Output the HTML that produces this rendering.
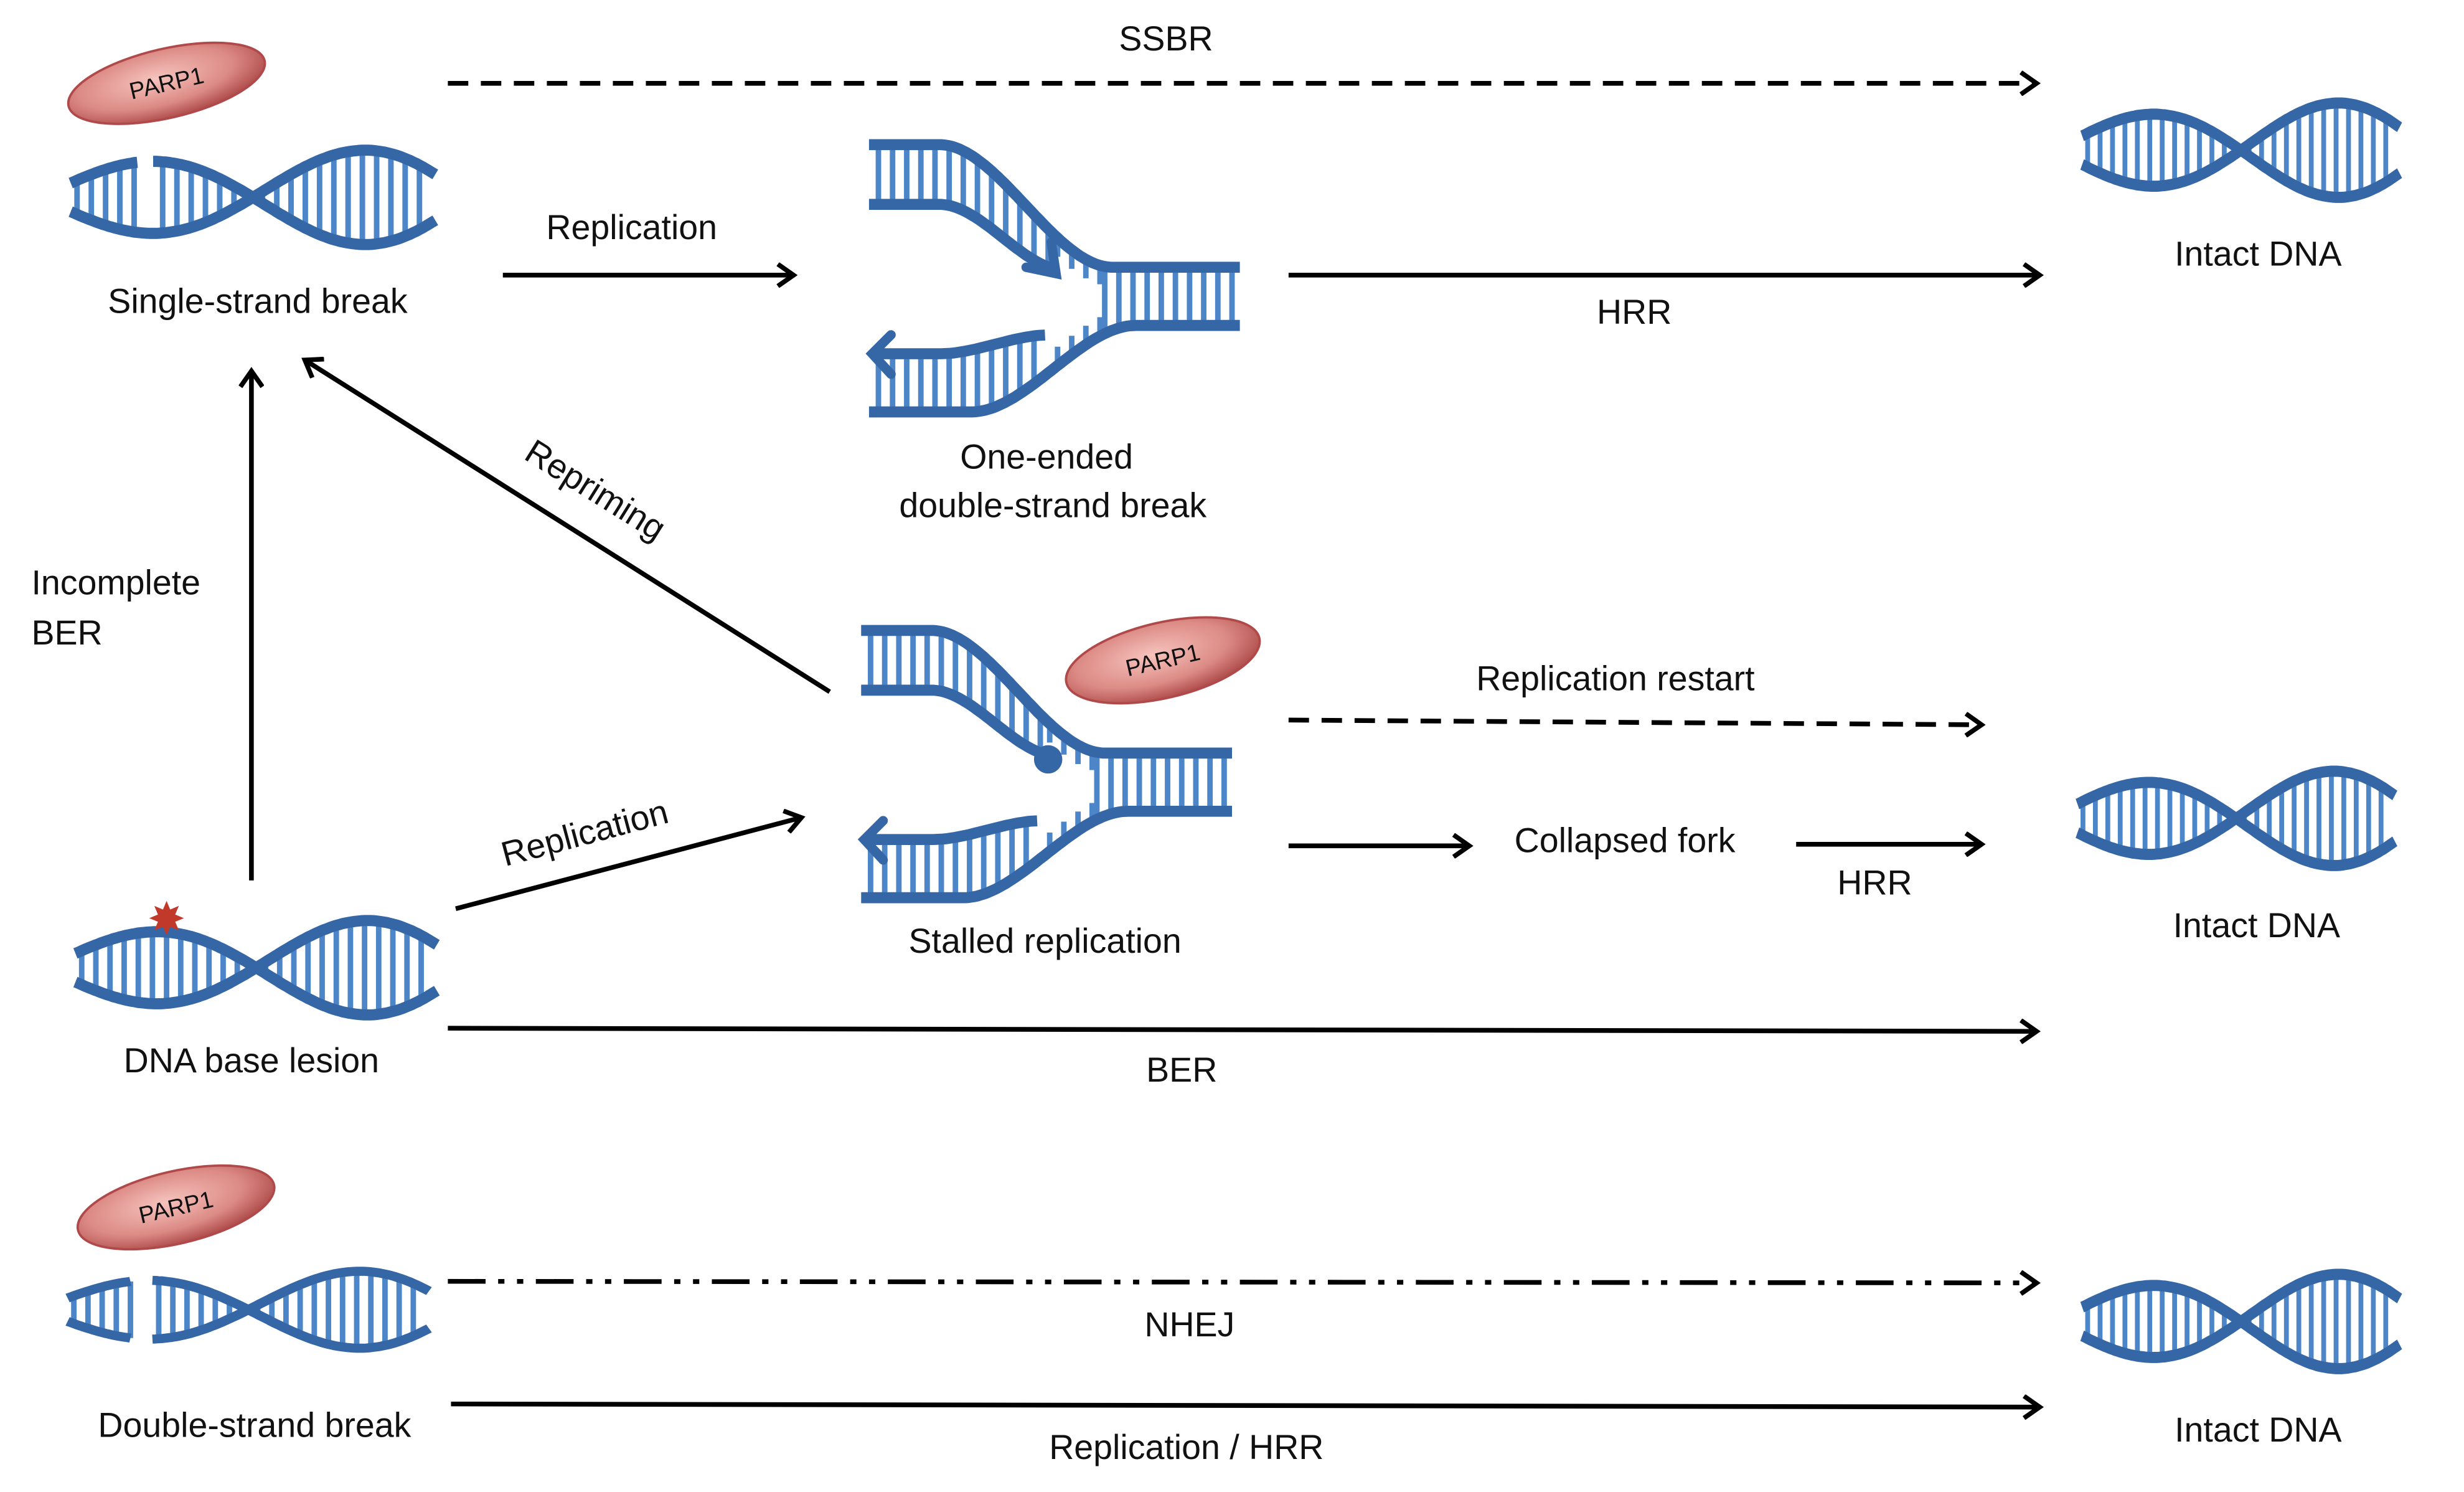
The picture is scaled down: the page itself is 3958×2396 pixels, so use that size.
<!DOCTYPE html>
<html><head><meta charset="utf-8">
<style>
html,body{margin:0;padding:0;background:#fff;}
svg{display:block;}
text{font-family:"Liberation Sans",sans-serif;fill:#111;}
</style></head>
<body>
<svg id="s" xmlns="http://www.w3.org/2000/svg" width="3958" height="2396" viewBox="0 0 1568 949" preserveAspectRatio="none">
<defs>
<radialGradient id="pg" cx="0.45" cy="0.4" r="0.65">
<stop offset="0" stop-color="#f6c3bd"/>
<stop offset="0.6" stop-color="#dc8a85"/>
<stop offset="1" stop-color="#a53f3f"/>
</radialGradient>
<marker id="ah" markerWidth="16" markerHeight="16" refX="12" refY="8" orient="auto" markerUnits="userSpaceOnUse">
<path d="M2,1 L12,8 L2,15" fill="none" stroke="#000" stroke-width="3"/>
</marker>
</defs>
<g id="dna"></g>
<g stroke="#000" stroke-width="3" fill="none" marker-end="url(#ah)">
<line x1="285" y1="53" x2="1296" y2="53" stroke-dasharray="13,8"/>
<line x1="320" y1="175" x2="505" y2="175"/>
<line x1="820" y1="175" x2="1298" y2="175"/>
<line x1="160" y1="560" x2="160" y2="236"/>
<line x1="528" y1="440" x2="194" y2="229"/>
<line x1="290" y1="578" x2="510" y2="520"/>
<line x1="820" y1="458" x2="1261" y2="461" stroke-dasharray="13,8"/>
<line x1="820" y1="538" x2="935" y2="538"/>
<line x1="1143" y1="537" x2="1261" y2="537"/>
<line x1="285" y1="654" x2="1296" y2="656"/>
<line x1="285" y1="815" x2="1296" y2="816" stroke-dasharray="24,8,4,8,4,8"/>
<line x1="287" y1="893" x2="1298" y2="895"/>
</g>
<g font-size="22">
<text x="742" y="32" text-anchor="middle">SSBR</text>
<text x="1437" y="169" text-anchor="middle">Intact DNA</text>
<text x="402" y="152" text-anchor="middle">Replication</text>
<text x="164" y="199" text-anchor="middle">Single-strand break</text>
<text x="1040" y="206" text-anchor="middle">HRR</text>
<text x="666" y="298" text-anchor="middle">One-ended</text>
<text x="670" y="329" text-anchor="middle">double-strand break</text>
<text x="20" y="378">Incomplete</text>
<text x="20" y="410">BER</text>
<text x="0" y="0" text-anchor="middle" transform="translate(375,318) rotate(32)">Repriming</text>
<text x="0" y="0" text-anchor="middle" transform="translate(374,537) rotate(-15)">Replication</text>
<text x="1028" y="439" text-anchor="middle">Replication restart</text>
<text x="1034" y="542" text-anchor="middle">Collapsed fork</text>
<text x="1193" y="569" text-anchor="middle">HRR</text>
<text x="1436" y="596" text-anchor="middle">Intact DNA</text>
<text x="665" y="606" text-anchor="middle">Stalled replication</text>
<text x="160" y="682" text-anchor="middle">DNA base lesion</text>
<text x="752" y="688" text-anchor="middle">BER</text>
<text x="757" y="850" text-anchor="middle">NHEJ</text>
<text x="162" y="914" text-anchor="middle">Double-strand break</text>
<text x="755" y="928" text-anchor="middle">Replication / HRR</text>
<text x="1437" y="917" text-anchor="middle">Intact DNA</text>
</g>
<g id="parps"></g>
</svg>
<script>
var NS="http://www.w3.org/2000/svg";
var dna=document.getElementById('dna');
var SC="#3566a6", RC="#4d86c8";
function el(t,a,p){var e=document.createElementNS(NS,t);for(var k in a)e.setAttribute(k,a[k]);(p||dna).appendChild(e);return e;}
function sm(t){t=Math.max(0,Math.min(1,t));return t*t*(3-2*t);}
function helix(x0,y0,w,h,gapA,gapB){
  var g=el('g',{transform:'translate('+x0+','+y0+') scale('+(w/230)+','+(h/75)+')'});
  function amp(x){return 20+12*x/230;}
  function yA(x){return 40-amp(x)*Math.sin(Math.PI*(x+20)/135);}
  function yB(x){return 40+amp(x)*Math.sin(Math.PI*(x+20)/135);}
  function inGap(x,gp){return gp&&x>gp[0]&&x<gp[1];}
  for(var x=4;x<228;x+=9){
    if(inGap(x,gapA)||inGap(x,gapB))continue;
    var a=yA(x),b=yB(x);if(Math.abs(a-b)<5)continue;
    el('line',{x1:x,y1:a,x2:x,y2:b,stroke:RC,'stroke-width':3.5},g);
  }
  [[yA,gapA],[yB,gapB]].forEach(function(p){
    var f=p[0],gp=p[1],d='',pen=false;
    for(var x=0;x<=230;x+=2){
      if(inGap(x,gp)){pen=false;continue;}
      d+=(pen?'L':'M')+x+','+f(x).toFixed(1);pen=true;
    }
    el('path',{d:d,fill:'none',stroke:SC,'stroke-width':7},g);
  });
  return g;
}
function fork(ox,oy,dot){
  var g=el('g',{transform:'translate('+ox+','+oy+')'});
  function oT(x){return 4+78*sm((x-45)/110);}
  function iT(x){return 42+42*sm((x-45)/80);}
  function oB(x){return 174-55*sm((x-65)/105);}
  function iB(x){return 137-12*sm((x-45)/70);}
  var x;
  for(x=6;x<=114;x+=9) el('line',{x1:x,y1:oT(x),x2:x,y2:iT(x),stroke:RC,'stroke-width':3.5},g);
  for(x=6;x<=108;x+=9) el('line',{x1:x,y1:iB(x),x2:x,y2:oB(x),stroke:RC,'stroke-width':3.5},g);
  for(x=150;x<=232;x+=9) el('line',{x1:x,y1:oT(x),x2:x,y2:oB(x),stroke:RC,'stroke-width':3.5},g);
  for(x=120;x<150;x+=9){el('line',{x1:x,y1:oT(x),x2:x,y2:oT(x)+12,stroke:RC,'stroke-width':3.5},g);el('line',{x1:x,y1:oB(x),x2:x,y2:oB(x)-12,stroke:RC,'stroke-width':3.5},g);}
  function path(f,a,b){var d='';for(var x=a;x<=b;x+=2)d+=(x==a?'M':'L')+x+','+f(x).toFixed(1);return d;}
  el('path',{d:path(oT,0,236),fill:'none',stroke:SC,'stroke-width':7},g);
  el('path',{d:path(oB,0,236),fill:'none',stroke:SC,'stroke-width':7},g);
  el('path',{d:path(iT,0,118),fill:'none',stroke:SC,'stroke-width':7},g);
  el('path',{d:path(iB,4,112),fill:'none',stroke:SC,'stroke-width':7},g);
  el('path',{d:'M14,125 L2,137 L14,150',fill:'none',stroke:SC,'stroke-width':6,'stroke-linecap':'round'},g);
  if(dot) el('circle',{cx:119,cy:86,r:9,fill:SC},g);
  else el('path',{d:'M100,82 L119,86 L116,66',fill:'none',stroke:SC,'stroke-width':6,'stroke-linecap':'round'},g);
}
helix(45,85,232,76,[42,52],null);
helix(1325,55,202,76);
helix(1322,480,202,76);
helix(48,575,230,76);
helix(43,800,230,62,[40,54],[40,54]);
helix(1325,800,202,76);
fork(553,88,false);
fork(548,397,true);
(function(){var cx=106,cy=584,d='';for(var i=0;i<16;i++){var r=i%2?6:11,a=Math.PI*i/8;d+=(i?'L':'M')+(cx+r*Math.cos(a)).toFixed(1)+','+(cy+r*Math.sin(a)).toFixed(1);}el('path',{d:d+'Z',fill:'#c0392b'});})();
var pp=document.getElementById('parps');
function parp(cx,cy,rx,ry){
  var g=el('g',{transform:'translate('+cx+','+cy+') rotate(-13)'},pp);
  el('ellipse',{cx:0,cy:0,rx:rx,ry:ry,fill:'url(#pg)',stroke:'#b04a4a','stroke-width':1.5},g);
  var t=el('text',{x:0,y:5,'text-anchor':'middle','font-size':15},g);t.textContent='PARP1';
}
parp(106,53,64,22);
parp(740,420,63,24);
parp(112,768,64,23);
</script>
</body></html>
